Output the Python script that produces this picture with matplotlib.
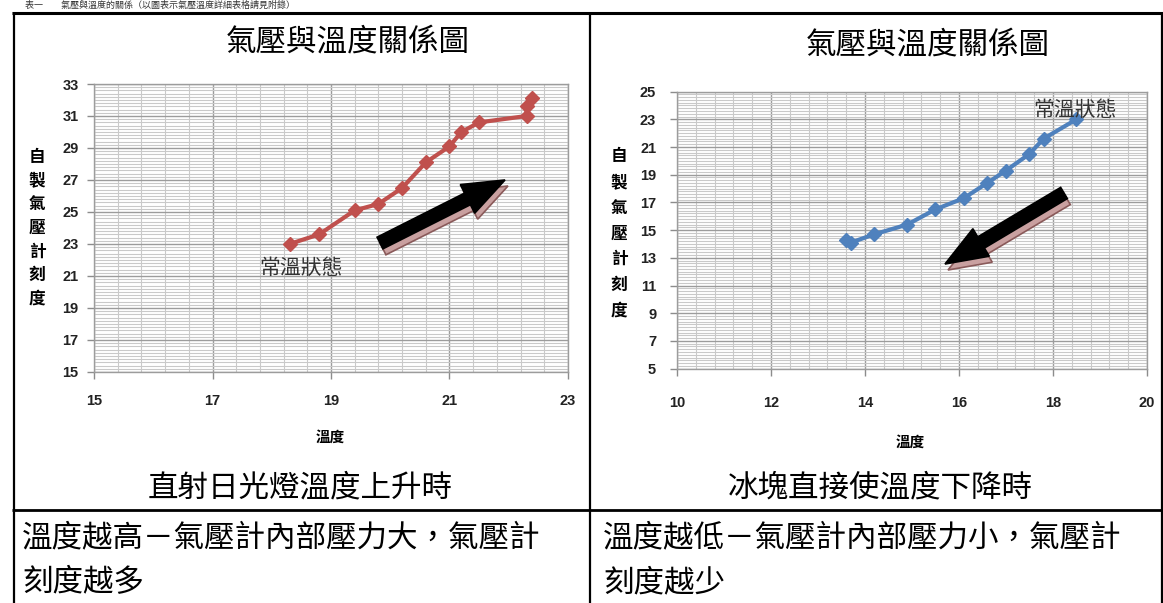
import matplotlib
matplotlib.use('Agg')
import matplotlib.pyplot as plt
from matplotlib import transforms
from matplotlib.patches import FancyArrow
from matplotlib.lines import Line2D
import numpy as np

W, H = 1163, 603
CJK = ['Noto Sans CJK TC', 'DejaVu Sans']

# ---------------- data ----------------
heat_temp = [18.3, 18.8, 19.4, 19.8, 20.2, 20.6, 21.0, 21.2, 21.5, 22.3, 22.3, 22.4]
heat_gauge = [23.0, 23.6, 25.1, 25.5, 26.5, 28.1, 29.1, 30.0, 30.6, 31.0, 31.6, 32.1]

ice_temp = [18.5, 17.8, 17.5, 17.0, 16.6, 16.1, 15.5, 14.9, 14.2, 13.7, 13.6]
ice_gauge = [23.0, 21.6, 20.5, 19.3, 18.4, 17.3, 16.5, 15.4, 14.7, 14.1, 14.3]

chart_title = '氣壓與溫度關係圖'
x_title = '溫度'
y_title = '自製氣壓計刻度'
note = '常溫狀態'
captions = ['直射日光燈溫度上升時', '冰塊直接使溫度下降時']
explain_1 = ['溫度越高－氣壓計內部壓力大，氣壓計', '刻度越多']
explain_2 = ['溫度越低－氣壓計內部壓力小，氣壓計', '刻度越少']
top_caption = '表一　　氣壓與溫度的關係（以圖表示氣壓溫度詳細表格請見附錄）'

fig = plt.figure(figsize=(W / 100, H / 100), dpi=100)
fig.patch.set_facecolor('white')


def fx(x):
    return x / W


def fy(y):
    return 1 - y / H


pix = transforms.Affine2D().scale(1 / 100, -1 / 100).translate(0, H / 100) + fig.dpi_scale_trans


def make_axes(left, top, right, bottom, xlim, ylim, xpad, ypad):
    ax = fig.add_axes([fx(left), fy(bottom), (right - left) / W, (bottom - top) / H])
    ax.set_xlim(*xlim)
    ax.set_ylim(*ylim)
    ax.set_xticks(np.arange(xlim[0], xlim[1] + 0.01, 2))
    ax.set_yticks(np.arange(ylim[0], ylim[1] + 0.01, 2))
    ax.set_xticks(np.arange(xlim[0], xlim[1] + 0.01, 0.4), minor=True)
    ax.set_yticks(np.arange(ylim[0], ylim[1] + 0.01, 0.2), minor=True)
    ax.grid(which='minor', color='#c9c9c9', lw=0.8)
    ax.grid(which='major', color='#9c9c9c', lw=1.0)
    ax.set_axisbelow(True)
    for s in ax.spines.values():
        s.set_color('#9c9c9c')
        s.set_linewidth(1.0)
    ax.tick_params(which='major', length=5, color='#8c8c8c', width=1.0)
    ax.tick_params(which='minor', length=0)
    ax.tick_params(axis='x', pad=xpad)
    ax.tick_params(axis='y', pad=ypad)
    ax.set_xticklabels([f'{int(v)}' for v in ax.get_xticks()])
    ax.set_yticklabels([f'{int(v)}' for v in ax.get_yticks()])
    for t in ax.get_xticklabels() + ax.get_yticklabels():
        t.set_fontfamily(['Liberation Sans', 'DejaVu Sans'])
        t.set_fontweight('bold')
        t.set_fontsize(10.5)
        t.set_color('#222222')
    return ax


# left chart
ax1 = make_axes(94, 84, 568, 372, (15, 23), (15, 33), xpad=11, ypad=6)
ax1.plot(heat_temp, heat_gauge, color='#C0504D', lw=3, marker='D', ms=7,
         markeredgecolor='#C0504D', zorder=5)

# right chart
ax2 = make_axes(677, 91.6, 1147, 368.6, (10, 20), (5, 25), xpad=15, ypad=10)
ax2.plot(ice_temp, ice_gauge, color='#4F81BD', lw=3, marker='D', ms=7,
         markeredgecolor='#4F81BD', zorder=5)

# titles
fig.text(fx(348), fy(42), chart_title, ha='center', va='center', fontsize=22, family=CJK)
fig.text(fx(928), fy(45), chart_title, ha='center', va='center', fontsize=22, family=CJK)

# x titles
fig.text(fx(330), fy(437), x_title, ha='center', va='center', fontsize=10.5, family=CJK, fontweight='bold')
fig.text(fx(910), fy(442), x_title, ha='center', va='center', fontsize=10.5, family=CJK, fontweight='bold')

# y titles (vertical stacked)
for i, ch in enumerate(y_title):
    fig.text(fx(37), fy(157 + i * 23.6), ch, ha='center', va='center', fontsize=12,
             family=CJK, fontweight='bold')
    fig.text(fx(619), fy(156 + i * 25.8), ch, ha='center', va='center', fontsize=12,
             family=CJK, fontweight='bold')

# notes
fig.text(fx(301), fy(268), note, ha='center', va='center', fontsize=15, family=CJK, color='#333333')
fig.text(fx(1075), fy(110), note, ha='center', va='center', fontsize=15, family=CJK, color='#333333')


# block arrows with shadow
def block_arrow(x0, y0, x1, y1):
    for off, fc, ec, z in [((3, 6), '#c9a0a0', '#8a5a5a', 6), ((0, 0), 'black', 'black', 7)]:
        a = FancyArrow(x0 + off[0], y0 + off[1], x1 - x0, y1 - y0, width=13, head_width=32,
                       head_length=42, length_includes_head=True, transform=pix,
                       facecolor=fc, edgecolor=ec, lw=1.2, zorder=z)
        fig.add_artist(a)


block_arrow(380, 243, 505, 180)
block_arrow(1064, 193, 945, 264)


# table lines
def hline(y, x0, x1, lw=1.5):
    fig.add_artist(Line2D([fx(x0), fx(x1)], [fy(y), fy(y)], transform=fig.transFigure,
                          color='black', lw=lw, solid_capstyle='butt'))


def vline(x, y0, y1, lw=1.5):
    fig.add_artist(Line2D([fx(x), fx(x)], [fy(y0), fy(y1)], transform=fig.transFigure,
                          color='black', lw=lw, solid_capstyle='butt'))


hline(12.5, 12, W, lw=2.2)
hline(510, 12, W, lw=2.0)
vline(13.5, 12, H, lw=1.6)
vline(590, 12, H, lw=1.6)
vline(1161.5, 12, H, lw=1.6)

# captions
fig.text(fx(300), fy(488), captions[0], ha='center', va='center', fontsize=22, family=CJK)
fig.text(fx(880), fy(488), captions[1], ha='center', va='center', fontsize=22, family=CJK)

# explanations
for i, line in enumerate(explain_1):
    fig.text(fx(22), fy(538 + i * 45), line, ha='left', va='center', fontsize=22, family=CJK)
for i, line in enumerate(explain_2):
    fig.text(fx(603), fy(538 + i * 45), line, ha='left', va='center', fontsize=22, family=CJK)

# caption above the table (shrunk to fit in the thin top strip)
fig.text(fx(25), fy(5.5), top_caption, ha='left', va='center', fontsize=6.5, family=CJK,
         color='#333333')

fig.savefig('out.png', dpi=100, facecolor='white')
